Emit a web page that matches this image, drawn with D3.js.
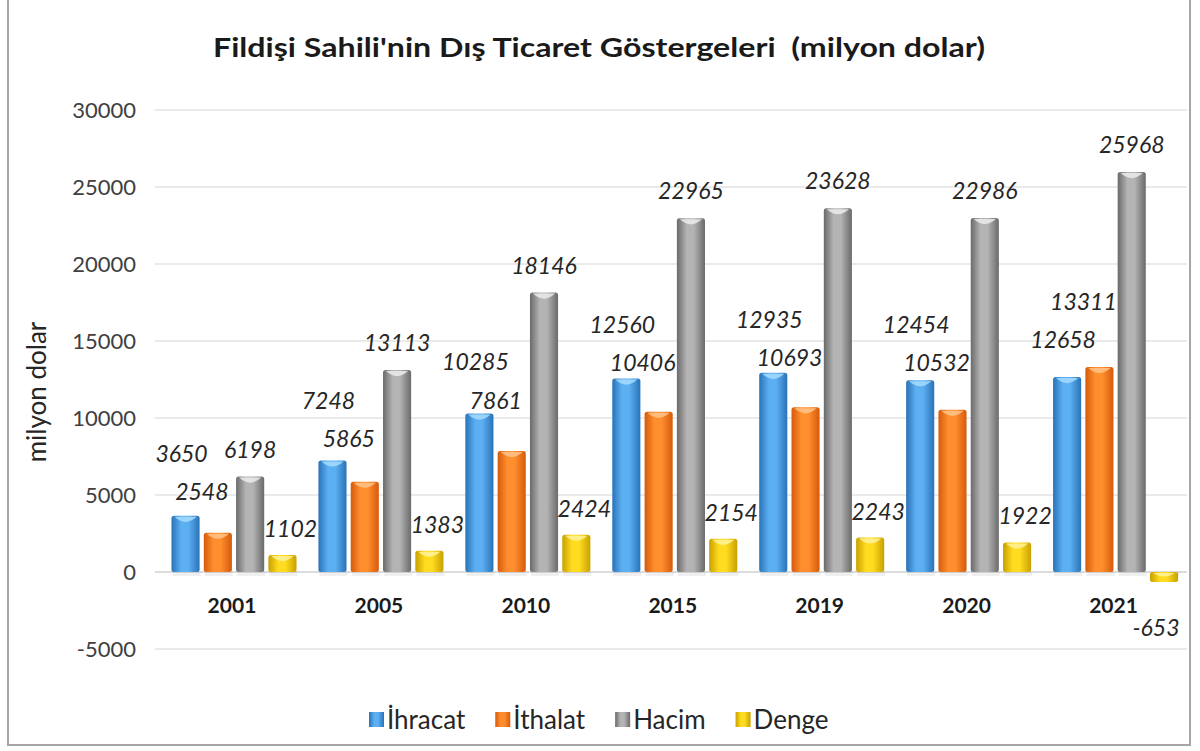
<!DOCTYPE html>
<html>
<head>
<meta charset="utf-8">
<script src="https://cdn.jsdelivr.net/npm/d3@7/dist/d3.min.js"></script>
<style>
  body { margin: 0; background: #fff; }
  svg { display: block; }
</style>
</head>
<body>
<div id="chart"></div>
<script>
// Chart data
const years = ['2001', '2005', '2010', '2015', '2019', '2020', '2021'];
const ihracat = [3650, 7248, 10285, 12560, 12935, 12454, 12658];
const ithalat = [2548, 5865, 7861, 10406, 10693, 10532, 13311];
const hacim = [6198, 13113, 18146, 22965, 23628, 22986, 25968];
const denge = [1102, 1383, 2424, 2154, 2243, 1922, -653];
const yTicks = [-5000, 0, 5000, 10000, 15000, 20000, 25000, 30000];

const seriesNames = ['İhracat', 'İthalat', 'Hacim', 'Denge'];
const seriesValues = [ihracat, ithalat, hacim, denge];

// Series styling: edge / centre / cap colours and label offsets
const seriesStyle = [
    { dark: '#2a72b8', light: '#5cb0f2', cap: '#a6dcff', dx: -4, dy: -52 },
    { dark: '#d65a0c', light: '#ff8f2e', cap: '#ffc48a', dx: -16, dy: -50 },
    { dark: '#6a6a6a', light: '#b4b4b4', cap: '#ececec', dx: 0, dy: -27 },
    { dark: '#c9a000', light: '#ffdc20', cap: '#fff29a', dx: 8, dy: -26 }
];

const width = 1200, height = 751;
const FONT = 'Lato, sans-serif';

const svg = d3.select('#chart')
    .append('svg')
    .attr('width', width)
    .attr('height', height)
    .style('font-family', FONT);

const defs = svg.append('defs');
seriesStyle.forEach((s, i) => {
    const g = defs.append('linearGradient')
        .attr('id', 'grad' + i)
        .attr('x1', '0%').attr('x2', '100%')
        .attr('y1', '0%').attr('y2', '0%');
    g.append('stop').attr('offset', '0%').attr('stop-color', s.dark);
    g.append('stop').attr('offset', '35%').attr('stop-color', s.light);
    g.append('stop').attr('offset', '60%').attr('stop-color', s.light);
    g.append('stop').attr('offset', '100%').attr('stop-color', s.dark);
});

// Outer frame
svg.append('path')
    .attr('d', 'M8,0 V745 H1190 V0')
    .attr('fill', 'none')
    .attr('stroke', '#a6a6a6')
    .attr('stroke-width', 2);

// Title
svg.append('text')
    .attr('x', 599)
    .attr('y', 57)
    .attr('text-anchor', 'middle')
    .attr('xml:space', 'preserve')
    .style('white-space', 'pre')
    .style('font-size', '26px')
    .style('font-weight', 'bold')
    .style('fill', '#1a1a1a')
    .attr('textLength', 772)
    .attr('lengthAdjust', 'spacingAndGlyphs')
    .text("Fildişi Sahili'nin Dış Ticaret Göstergeleri  (milyon dolar)");

// Scales
const y = d3.scaleLinear()
    .domain([-5000, 30000])
    .range([649, 110]);

const x0 = d3.scaleBand()
    .domain(years)
    .range([158.5, 1187]);

const x1 = d3.scaleBand()
    .domain(d3.range(4))
    .range([13, 138])
    .paddingInner(0.13);

// Gridlines
svg.append('g')
    .selectAll('line')
    .data(yTicks)
    .join('line')
    .attr('x1', 155)
    .attr('x2', 1187)
    .attr('y1', d => y(d))
    .attr('y2', d => y(d))
    .attr('stroke', d => d === 0 ? '#d0d0d0' : '#e3e3e3')
    .attr('stroke-width', 1.5);

// Y axis labels
svg.append('g')
    .selectAll('text')
    .data(yTicks)
    .join('text')
    .attr('x', 136)
    .attr('y', d => y(d))
    .attr('dy', '0.35em')
    .attr('text-anchor', 'end')
    .style('font-size', '22px')
    .style('fill', '#404040')
    .text(d => d);

// Y axis title
svg.append('text')
    .attr('transform', 'translate(46,392) rotate(-90)')
    .attr('text-anchor', 'middle')
    .style('font-size', '26px')
    .style('fill', '#262626')
    .text('milyon dolar');

// Bars
const bars = [];
years.forEach((yr, yi) => {
    seriesValues.forEach((vals, si) => {
        bars.push({ year: yr, yi: yi, s: si, v: vals[yi] });
    });
});

const bw = x1.bandwidth();

// Label anchor positions, then keep İhracat/İthalat labels apart
bars.forEach(d => {
    const st = seriesStyle[d.s];
    d.lx = x0(d.year) + x1(d.s) + bw / 2 + (d.v >= 0 ? st.dx : -8);
    d.ly = d.v >= 0 ? y(d.v) + st.dy : y(d.v) + 46;
});
years.forEach((yr, yi) => {
    const a = bars.find(b => b.yi === yi && b.s === 0);
    const b = bars.find(b => b.yi === yi && b.s === 1);
    const minGap = 38;
    const top = a.v >= b.v ? a : b;
    const bot = top === a ? b : a;
    if (bot.ly - top.ly < minGap) {
        const mid = (a.ly + b.ly) / 2;
        top.ly = mid - minGap / 2;
        bot.ly = mid + minGap / 2;
    }
});

const node = svg.append('g')
    .selectAll('g')
    .data(bars)
    .join('g')
    .attr('transform', d => `translate(${x0(d.year) + x1(d.s)},0)`);

// Soft shadow under bars
node.append('rect')
    .attr('x', 1)
    .attr('y', d => y(0))
    .attr('width', bw)
    .attr('height', 4)
    .attr('fill', '#000')
    .attr('opacity', 0.06);

node.append('rect')
    .attr('x', 0)
    .attr('y', d => Math.min(y(d.v), y(0)))
    .attr('width', bw)
    .attr('height', d => Math.abs(y(d.v) - y(0)))
    .attr('rx', 2.5)
    .attr('fill', d => `url(#grad${d.s})`);

// Bevelled cap on top of each bar
node.append('path')
    .attr('d', d => {
        const t = Math.min(y(d.v), y(0));
        const h = Math.min(7, Math.abs(y(d.v) - y(0)) / 2);
        return `M3,${t + 1} Q${bw / 2},${t + h * 1.6} ${bw - 3},${t + 1} Z`;
    })
    .attr('fill', d => seriesStyle[d.s].cap)
    .attr('opacity', 0.85);

// Value labels
svg.append('g')
    .selectAll('text')
    .data(bars)
    .join('text')
    .attr('x', d => d.lx)
    .attr('y', d => d.ly)
    .attr('dy', '0.35em')
    .attr('text-anchor', 'middle')
    .style('font-size', '23px')
    .style('font-style', 'italic')
    .style('fill', '#262626')
    .text(d => d.v);

// X axis labels
svg.append('g')
    .selectAll('text')
    .data(years)
    .join('text')
    .attr('x', d => x0(d) + x0.bandwidth() / 2)
    .attr('y', 606)
    .attr('dy', '0.35em')
    .attr('text-anchor', 'middle')
    .style('font-size', '21px')
    .style('font-weight', 'bold')
    .style('fill', '#1a1a1a')
    .text(d => d);

// Legend, laid out from measured text widths
const legend = svg.append('g');
let lx = 369;
seriesNames.forEach((name, i) => {
    legend.append('rect')
        .attr('x', lx)
        .attr('y', 712)
        .attr('width', 15)
        .attr('height', 15)
        .attr('fill', `url(#grad${i})`);
    const t = legend.append('text')
        .attr('x', lx + 18)
        .attr('y', 720)
        .attr('dy', '0.35em')
        .style('font-size', '26px')
        .style('fill', '#262626')
        .text(name);
    lx += 18 + t.node().getComputedTextLength() + 30;
});
</script>
</body>
</html>
